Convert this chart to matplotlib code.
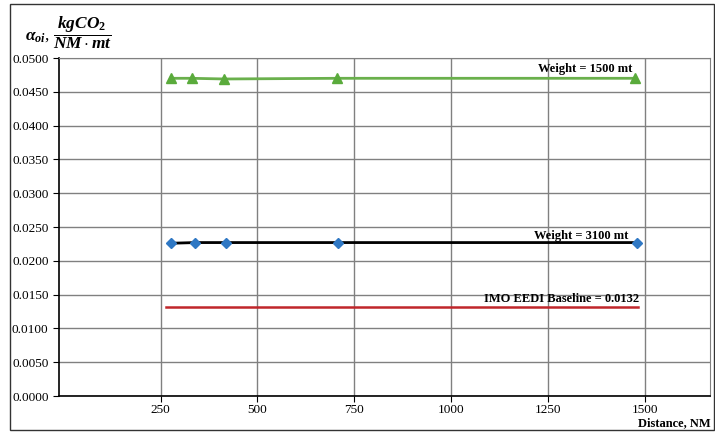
import matplotlib
matplotlib.use("Agg")
import matplotlib.pyplot as plt

plt.rcParams['font.family'] = ['Liberation Serif', 'DejaVu Serif']
plt.rcParams['mathtext.fontset'] = 'custom'
plt.rcParams['mathtext.it'] = 'Liberation Serif:italic:bold'
plt.rcParams['mathtext.rm'] = 'Liberation Serif:bold'
plt.rcParams['mathtext.bf'] = 'Liberation Serif:bold'

# data
dist_1500 = [278, 330, 415, 706, 1475]
alpha_1500 = [0.0470, 0.0470, 0.0469, 0.0470, 0.0470]
dist_3100 = [278, 340, 420, 708, 1480]
alpha_3100 = [0.0226, 0.0227, 0.0227, 0.0227, 0.0227]
baseline_x = [265, 1483]
baseline = 0.0132

x_ticks = [250, 500, 750, 1000, 1250, 1500]
y_ticks = [i * 0.005 for i in range(11)]

fig = plt.figure(figsize=(7.15, 4.32), dpi=100)
ax = fig.add_axes([0.0825, 0.0833, 0.9105, 0.7824])

# frame round the whole figure
fig.patches.append(plt.Rectangle((0.014, 0.005), 0.984, 0.986, transform=fig.transFigure,
                                 fill=False, edgecolor='#333333', linewidth=1.0))

ax.plot(dist_1500, alpha_1500, color='#6ab04c', linewidth=2, marker='^',
        markersize=7, markerfacecolor='#5aab3c', markeredgecolor='#5aab3c', zorder=3)
ax.plot(dist_3100, alpha_3100, color='black', linewidth=2, zorder=3)
ax.plot(dist_3100, alpha_3100, linestyle='none', marker='D', markersize=5,
        color='#2f78c4', zorder=4)
ax.plot(baseline_x, [baseline, baseline], color='#c0262b', linewidth=1.8, zorder=3)

ax.text(1468, 0.0484, "Weight = 1500 mt", ha='right', va='center', fontsize=9, fontweight='bold')
ax.text(1458, 0.0236, "Weight = 3100 mt", ha='right', va='center', fontsize=9, fontweight='bold')
ax.text(1485, 0.0143, "IMO EEDI Baseline = 0.0132", ha='right', va='center', fontsize=9,
        fontweight='bold')

ax.set_xlim(-12, 1668)
ax.set_ylim(0, 0.05)
ax.set_xticks(x_ticks)
ax.set_yticks(y_ticks)
ax.set_yticklabels([f"{v:.4f}" for v in y_ticks])
ax.tick_params(labelsize=9.5, direction='out', length=4, color='black')
ax.tick_params(axis='x', pad=2)
ax.grid(True, color='#808080', linewidth=1)
ax.set_axisbelow(True)
for s in ['top', 'right']:
    ax.spines[s].set_color('#808080')
for s in ['left', 'bottom']:
    ax.spines[s].set_color('black')
    ax.spines[s].set_linewidth(1.2)

fig.text(0.035, 0.925, r"$\alpha_{oi}$, $\dfrac{kgCO_2}{NM\cdot mt}$", fontsize=12.5, va='center')
fig.text(0.994, 0.02, "Distance, NM", ha='right', va='center', fontsize=9, fontweight='bold')

fig.savefig("out.png", dpi=100)
